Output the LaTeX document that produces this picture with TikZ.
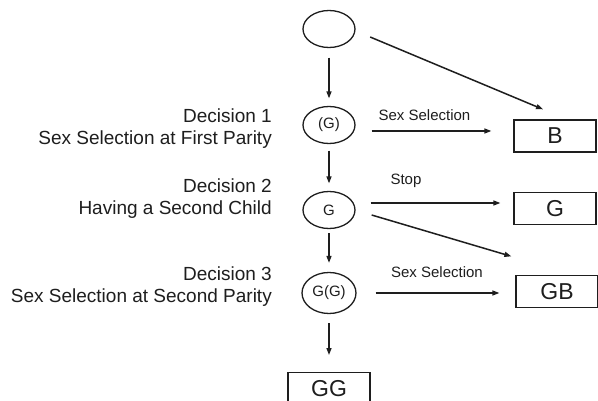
\documentclass[tikz,border=0pt]{standalone}
\usepackage{fontspec}
\setmainfont{Liberation Sans}
\usetikzlibrary{shapes.geometric,arrows.meta}
\definecolor{ink}{HTML}{1E1E1E}
\tikzset{
  ell/.style={draw=ink, ellipse, line width=1.3pt, minimum width=52pt, minimum height=37pt, inner sep=0pt, font=\fontsize{15}{17}\selectfont, text=ink},
  outbox/.style={draw=ink, rectangle, line width=1.3pt, minimum width=82pt, minimum height=32pt, inner sep=0pt, font=\fontsize{23}{26}\selectfont, text=ink},
  arr/.style={draw=ink, line width=1.5pt, -{Triangle[length=7pt,width=5pt]}},
  edgelbl/.style={anchor=base, inner sep=0pt, font=\fontsize{15}{18}\selectfont, text=ink},
  sidelbl/.style={anchor=base east, inner sep=0pt, font=\fontsize{19}{22}\selectfont, text=ink}
}
\begin{document}
\begin{tikzpicture}[x=1pt,y=-1pt]
\useasboundingbox (0,0) rectangle (598,401);
\clip (0,0) rectangle (598,401);
\fill[white] (0,0) rectangle (598,401);

% decision nodes
\node[ell] (s0) at (329,29) {};
\node[ell] (d1) at (329,125) {(G)};
\node[ell] (d2) at (329,210) {G};
\node[ell, minimum height=41pt, minimum width=54pt] (d3) at (329,293) {G(G)};

% outcome boxes
\node[outbox] (B) at (555,136) {B};
\node[outbox] (Gb) at (555,208.5) {G};
\node[outbox] (GB) at (557,291.5) {GB};
\node[outbox, anchor=north] (GG) at (329,372) {GG};

% vertical connectors
\draw[arr] ([yshift=-9.5pt]s0.south) -- ([yshift=7.5pt]d1.north);
\draw[arr] ([yshift=-6.5pt]d1.south) -- ([yshift=7.5pt]d2.north);
\draw[arr] ([yshift=-4pt]d2.south) -- ([yshift=9pt]d3.north);
\draw[arr] ([yshift=-9pt]d3.south) -- ([yshift=17pt]GG.north);

% other connectors
\draw[arr] ([shift={(14.5pt,-8pt)}]s0.east) -- ([shift={(-12pt,10pt)}]B.north);
\draw[arr] ([shift={(16pt,-6pt)}]d1.east) -- ([shift={(-22pt,5pt)}]B.west);
\draw[arr] ([shift={(15pt,7pt)}]d2.east) -- ([shift={(-13pt,5.5pt)}]Gb.west);
\draw[arr] ([shift={(16pt,-5pt)}]d2.east) -- ([shift={(-4pt,18.5pt)}]GB.north west);
\draw[arr] ([shift={(19pt,0pt)}]d3.east) -- ([shift={(-16pt,-1.5pt)}]GB.west);

% connector labels
\node[edgelbl] (l1) at (424.5,121) {Sex Selection};
\node[edgelbl] (l2) at (406,185) {Stop};
\node[edgelbl] (l3) at (437,278) {Sex Selection};

% side labels
\node[sidelbl] (a1) at (272,123) {Decision 1};
\node[sidelbl] (a2) at (272,145) {Sex Selection at First Parity};
\node[sidelbl] (b1) at (272,193) {Decision 2};
\node[sidelbl] (b2) at (272,215) {Having a Second Child};
\node[sidelbl] (c1) at (272,280) {Decision 3};
\node[sidelbl] (c2) at (272,302) {Sex Selection at Second Parity};
\end{tikzpicture}
\end{document}
